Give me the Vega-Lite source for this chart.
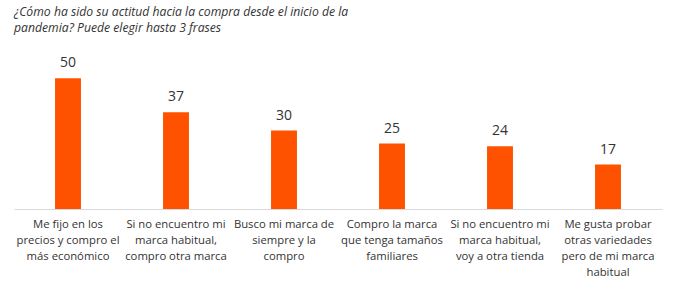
{
  "$schema": "https://vega.github.io/schema/vega-lite/v6.json",
  "width": 648,
  "height": 157,
  "autosize": {"type": "none"},
  "padding": {"left": 14, "top": 52, "right": 16, "bottom": 75},
  "background": "white",
  "config": {
    "view": {"stroke": null},
    "font": "Open Sans"
  },
  "title": {
    "text": ["¿Cómo ha sido su actitud hacia la compra desde el inicio de la", "pandemia? Puede elegir hasta 3 frases"],
    "anchor": "start",
    "frame": "group",
    "fontSize": 12.2,
    "fontStyle": "italic",
    "fontWeight": "normal",
    "color": "#333333",
    "lineHeight": 16,
    "offset": 18
  },
  "data": {
    "values": [
      {"frase": "Me fijo en los|precios y compro el|más económico", "pct": 50},
      {"frase": "Si no encuentro mi|marca habitual,|compro otra marca", "pct": 37},
      {"frase": "Busco mi marca de|siempre y la|compro", "pct": 30},
      {"frase": "Compro la marca|que tenga tamaños|familiares", "pct": 25},
      {"frase": "Si no encuentro mi|marca habitual,|voy a otra tienda", "pct": 24},
      {"frase": "Me gusta probar|otras variedades|pero de mi marca|habitual", "pct": 17}
    ]
  },
  "encoding": {
    "x": {
      "field": "frase",
      "type": "nominal",
      "sort": null,
      "scale": {"paddingInner": 0.76, "paddingOuter": 0.38},
      "axis": {
        "title": null,
        "labelAngle": 0,
        "labelExpr": "split(datum.label, '|')",
        "labelFontSize": 11.3,
        "labelLineHeight": 16,
        "labelColor": "#333333",
        "labelPadding": 9,
        "labelLimit": 0,
        "labelBaseline": "top",
        "ticks": false,
        "domainColor": "#d9d9d9",
        "domainWidth": 1
      }
    },
    "y": {
      "field": "pct",
      "type": "quantitative",
      "scale": {"domain": [0, 60]},
      "axis": null
    }
  },
  "layer": [
    {"mark": {"type": "bar", "color": "#FF5200"}},
    {
      "mark": {"type": "text", "baseline": "bottom", "dy": -8, "fontSize": 14, "color": "#333333"},
      "encoding": {"text": {"field": "pct", "type": "quantitative"}}
    }
  ]
}
